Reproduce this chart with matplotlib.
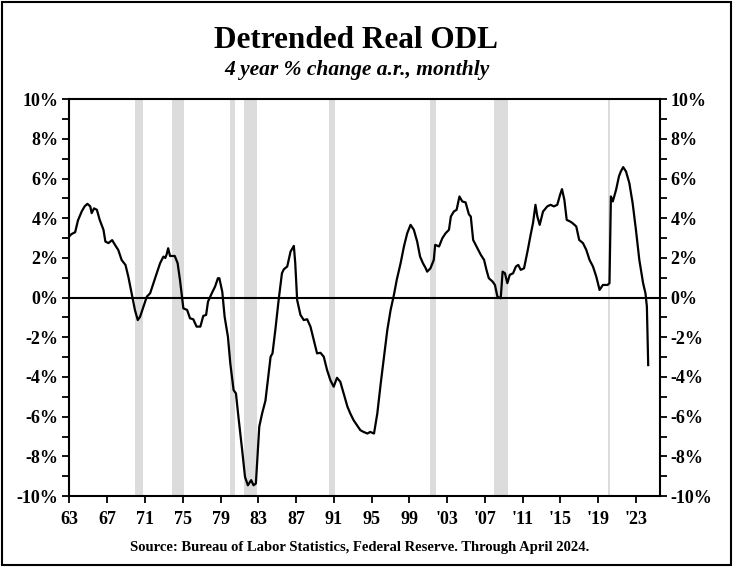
import matplotlib.pyplot as plt
from matplotlib.ticker import MultipleLocator, FuncFormatter
from matplotlib.patches import Rectangle

plt.rcParams['font.family'] = ['Liberation Serif', 'DejaVu Serif']
plt.rcParams['font.weight'] = 'bold'

# values (decimal year, % change a.r.)
years = [1963.0, 1963.2, 1963.6, 1963.9, 1964.3, 1964.6, 1964.9, 1965.2, 1965.35, 1965.6,
         1965.9, 1966.2, 1966.6, 1966.8, 1967.12, 1967.52, 1967.82, 1968.17, 1968.52, 1968.93,
         1969.23, 1969.58, 1969.93, 1970.23, 1970.48, 1970.84, 1971.19, 1971.54, 1971.89, 1972.24,
         1972.6, 1972.95, 1973.15, 1973.3, 1973.45, 1973.65, 1974.15, 1974.45, 1974.7, 1975.06,
         1975.46, 1975.76, 1976.11, 1976.46, 1976.86, 1977.17, 1977.47, 1977.67, 1978.07, 1978.42,
         1978.72, 1978.87, 1979.18, 1979.43, 1979.78, 1980.03, 1980.38, 1980.63, 1980.89, 1981.29,
         1981.59, 1981.89, 1982.24, 1982.49, 1982.74, 1983.1, 1983.4, 1983.75, 1984.3, 1984.5,
         1984.8, 1985.15, 1985.5, 1985.7, 1986.06, 1986.41, 1986.76, 1986.91, 1987.11, 1987.46,
         1987.81, 1988.17, 1988.52, 1988.87, 1989.22, 1989.58, 1989.93, 1990.28, 1990.63, 1990.98,
         1991.33, 1991.68, 1992.04, 1992.44, 1992.74, 1993.09, 1993.45, 1993.8, 1994.15, 1994.55,
         1994.85, 1995.25, 1995.6, 1995.96, 1996.31, 1996.66, 1997.01, 1997.36, 1997.66, 1998.07,
         1998.42, 1998.77, 1999.12, 1999.47, 1999.82, 2000.13, 2000.43, 2000.73, 2000.88, 2001.23,
         2001.58, 2001.73, 2002.14, 2002.49, 2002.84, 2003.19, 2003.39, 2003.7, 2004.0, 2004.3,
         2004.6, 2004.95, 2005.3, 2005.5, 2005.75, 2006.2, 2006.56, 2006.91, 2007.16, 2007.41,
         2007.81, 2008.06, 2008.32, 2008.67, 2008.87, 2009.12, 2009.37, 2009.63, 2009.98, 2010.28,
         2010.53, 2010.79, 2011.14, 2011.54, 2011.84, 2012.09, 2012.35, 2012.55, 2012.8, 2013.15,
         2013.6, 2013.95, 2014.3, 2014.66, 2014.96, 2015.16, 2015.41, 2015.66, 2016.02, 2016.27,
         2016.67, 2016.98, 2017.38, 2017.73, 2018.08, 2018.44, 2018.79, 2019.14, 2019.49, 2019.99,
         2020.19, 2020.34, 2020.54, 2020.89, 2021.19, 2021.39, 2021.64, 2021.94, 2022.29, 2022.64,
         2022.99, 2023.35, 2023.75, 2024.0, 2024.15, 2024.29]
odl = [3.1, 3.2, 3.3, 3.9, 4.35, 4.6, 4.73, 4.6, 4.26, 4.5,
       4.43, 3.92, 3.42, 2.83, 2.75, 2.9, 2.66, 2.4, 1.9, 1.65,
       1.06, 0.22, -0.62, -1.13, -0.96, -0.45, 0.05, 0.22, 0.73, 1.23,
       1.74, 2.07, 2.0, 2.2, 2.49, 2.1, 2.1, 1.74, 0.9, -0.54,
       -0.62, -1.04, -1.09, -1.46, -1.46, -0.92, -0.87, -0.2, 0.22, 0.56,
       0.98, 0.98, 0.3, -0.96, -1.97, -3.31, -4.66, -4.83, -6.0, -7.7,
       -9.04, -9.46, -9.2, -9.46, -9.37, -6.5, -5.84, -5.2, -2.98, -2.81,
       -1.63, -0.12, 1.23, 1.43, 1.57, 2.32, 2.61, 1.74, -0.12, -0.87,
       -1.13, -1.09, -1.46, -2.14, -2.81, -2.78, -2.98, -3.65, -4.16, -4.49,
       -4.04, -4.24, -4.83, -5.5, -5.84, -6.18, -6.43, -6.68, -6.77, -6.85,
       -6.77, -6.85, -5.84, -4.33, -2.98, -1.63, -0.62, 0.14, 0.9, 1.74,
       2.58, 3.25, 3.67, 3.42, 2.83, 2.07, 1.74, 1.48, 1.31, 1.48,
       1.9, 2.66, 2.58, 3.0, 3.25, 3.42, 4.09, 4.34, 4.43, 5.1,
       4.85, 4.8, 4.2, 4.09, 2.91, 2.49, 2.16, 1.9, 1.4, 0.98,
       0.81, 0.64, 0.05, -0.03, 1.31, 1.23, 0.73, 1.15, 1.23, 1.57,
       1.65, 1.4, 1.48, 2.41, 3.17, 3.76, 4.68, 4.09, 3.67, 4.34,
       4.6, 4.68, 4.6, 4.68, 5.19, 5.47, 4.93, 3.92, 3.84, 3.76,
       3.59, 2.91, 2.75, 2.41, 1.9, 1.57, 1.06, 0.39, 0.64, 0.64,
       0.73, 5.1, 4.85, 5.44, 6.11, 6.36, 6.58, 6.36, 5.78, 4.77,
       3.42, 1.9, 0.73, 0.22, -0.45, -3.4]

# NBER recessions
rec_start = [1969.92, 1973.83, 1980.0, 1981.5, 1990.5, 2001.17, 2007.92, 2020.08]
rec_end = [1970.83, 1975.17, 1980.5, 1982.83, 1991.17, 2001.83, 2009.42, 2020.25]

tick_years = list(range(1963, 2024, 4))
tick_labels = [str(y)[2:] if y < 2000 else "'" + str(y)[2:] for y in tick_years]

fig = plt.figure(figsize=(7.33, 5.67), dpi=100)
ax = fig.add_axes([0.0948, 0.1252, 0.8051, 0.6997])

for s, e in zip(rec_start, rec_end):
    ax.axvspan(s, e, color='#dcdcdc', lw=0, zorder=0)

ax.axhline(0, color='black', lw=1.5, zorder=1)
ax.plot(years, odl, color='black', lw=1.6, zorder=2)

ax.set_xlim(1963, 2025.5)
ax.set_ylim(-10, 10)
ax.set_xticks(tick_years)
ax.set_xticklabels(tick_labels)
ax.yaxis.set_major_locator(MultipleLocator(2))
ax.yaxis.set_minor_locator(MultipleLocator(1))
ax.yaxis.set_major_formatter(FuncFormatter(lambda v, p: '%d%%' % v))
ax.tick_params(axis='both', which='both', direction='out', length=5, width=1.3,
               labelsize=13, right=True, labelright=True)
ax.tick_params(axis='y', pad=3)
ax.tick_params(axis='x', pad=6)
for sp in ax.spines.values():
    sp.set_linewidth(1.5)

fig.text(0.486, 0.929, 'Detrended Real ODL', ha='center', va='center', fontsize=22.5, weight='bold')
fig.text(0.487, 0.877, '4 year % change a.r., monthly', ha='center', va='center',
         fontsize=15.5, style='italic', weight='bold')
fig.text(0.49, 0.035, 'Source: Bureau of Labor Statistics, Federal Reserve. Through April 2024.',
         ha='center', va='center', fontsize=10.5, weight='bold')

# frame around the whole picture
fig.patches.append(Rectangle((0.003, 0.003), 0.994, 0.994, transform=fig.transFigure,
                             fill=False, edgecolor='black', lw=1.5))

plt.savefig('out.png', dpi=100)
